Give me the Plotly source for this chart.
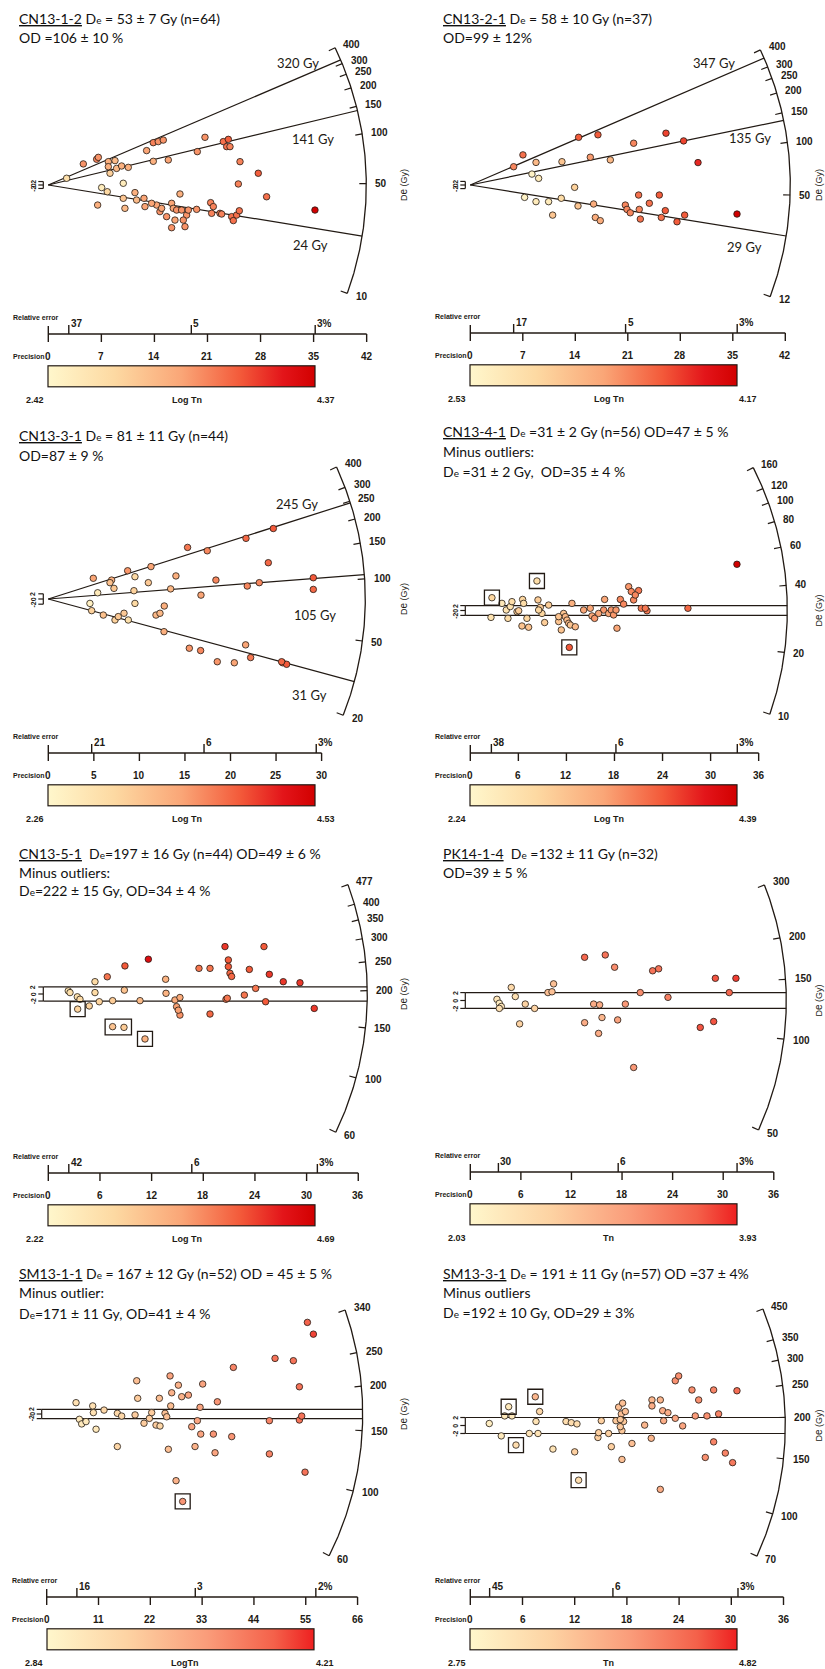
import numpy as np
import plotly.graph_objects as go

W, H = 825, 1669

# ======================= DATA =======================
sample_ids = ["CN13-1-2", "CN13-2-1", "CN13-3-1", "CN13-4-1",
              "CN13-5-1", "PK14-1-4", "SM13-1-1", "SM13-3-1"]
DE = 'D<span style="font-size:10px">e</span>'
title_text = [
    [" {De} = 53 ± 7 Gy (n=64)", "OD =106 ± 10 %"],
    [" {De} = 58 ± 10 Gy (n=37)", "OD=99 ± 12%"],
    [" {De} = 81 ± 11 Gy (n=44)", "OD=87 ± 9 %"],
    [" {De} =31 ± 2 Gy (n=56) OD=47 ± 5 %", "Minus outliers:", "{De} =31 ± 2 Gy,  OD=35 ± 4 %"],
    ["  {De}=197 ± 16 Gy (n=44) OD=49 ± 6 %", "Minus outliers:", "{De}=222 ± 15 Gy, OD=34 ± 4 %"],
    ["  {De} =132 ± 11 Gy (n=32)", "OD=39 ± 5 %"],
    [" {De} = 167 ± 12 Gy (n=52) OD = 45 ± 5 %", "Minus outlier:", "{De}=171 ± 11 Gy, OD=41 ± 4 %"],
    [" {De} = 191 ± 11 Gy (n=57) OD =37 ± 4%", "Minus outliers", "{De} =192 ± 10 Gy, OD=29 ± 3%"],
]
centre_De = [49, 57, 80, 30.9, 195, 130, 167, 189]
radial_De = [[320, 141, 24], [347, 135, 29], [245, 105, 31], [], [], [], [], []]
arc_De_range = [(10, 400), (12, 400), (20, 400), (10, 160), (60, 477), (50, 300), (60, 340), (70, 450)]
arc_ticks = [
    [10, 50, 100, 150, 200, 250, 300, 400],
    [12, 50, 100, 150, 200, 250, 300, 400],
    [20, 50, 100, 150, 200, 250, 300, 400],
    [10, 20, 40, 60, 80, 100, 120, 160],
    [60, 100, 150, 200, 250, 300, 350, 400, 477],
    [50, 100, 150, 200, 300],
    [60, 100, 150, 200, 250, 340],
    [70, 100, 150, 200, 250, 300, 350, 450],
]
prec_max = [42, 42, 30, 36, 36, 36, 66, 36]
prec_step = [7, 7, 5, 6, 6, 6, 11, 6]
rel_err_pct = [[37, 5.3, 2.84], [17.3, 4.83, 2.81], [21, 5.85, 3.4], [38, 5.5, 3.0],
               [42, 6.0, 3.2], [30, 5.7, 3.16], [15.6, 3.17, 1.75], [45, 6.1, 3.25]]
rel_err_labels = [["37", "5", "3%"], ["17", "5", "3%"], ["21", "6", "3%"], ["38", "6", "3%"],
                  ["42", "6", "3%"], ["30", "6", "3%"], ["16", "3", "2%"], ["45", "6", "3%"]]
cbar_min = [2.42, 2.53, 2.26, 2.24, 2.22, 2.03, 2.84, 2.75]
cbar_max = [4.37, 4.17, 4.53, 4.39, 4.69, 3.93, 4.21, 4.82]
cbar_title = ["Log Tn", "Log Tn", "Log Tn", "Log Tn", "Log Tn", "Tn", "LogTn", "Tn"]

# precision (x), standardised estimate (y), colour value (log Tn / Tn)
p1_x = [4.62, 6.38, 6.60, 7.92, 8.80, 8.14, 7.92, 9.01, 9.67, 10.55, 9.89, 12.97, 13.85, 14.51, 15.17, 13.85,
        15.83, 19.66, 20.67, 23.09, 23.75, 23.53, 23.97, 25.29, 27.70, 25.07, 28.80, 35.18, 6.51, 7.04, 7.78,
        9.89, 10.11, 11.43, 11.65, 12.62, 12.75, 14.29, 14.73, 14.95, 16.27, 16.49, 16.71, 16.93, 16.27, 17.37,
        17.59, 18.03, 18.25, 18.47, 19.57, 21.42, 21.77, 21.55, 22.65, 22.87, 24.19, 24.41, 24.85, 25.20,
        17.81, 15.61, 13.63, 2.42]
p1_y = [12.2, 14.9, 16.0, 13.5, 14.1, 6.8, 10.6, 9.6, 11.0, 10.2, 1.0, 19.9, 24.5, 25.1, 26.0, 13.7, 14.5,
        19.3, 27.6, 25.1, 26.4, 22.2, 22.2, 13.5, 6.8, 0.6, -6.8, -14.5, -11.6, -1.5, -3.9, -7.7, -13.5, -4.4,
        -8.7, -7.7, -12.5, -11.6, -15.4, -13.5, -10.6, -13.5, -20.3, -14.5, -24.7, -5.2, -14.5, -24.1, -17.4,
        -14.5, -14.1, -10.2, -12.5, -16.4, -16.4, -16.8, -18.3, -20.6, -17.4, -14.9, -20.3, -18.3, -10.6, 3.9]
p1_c = [3.5, 3.6, 3.5, 3.3, 3.2, 3.0, 3.3, 3.2, 3.3, 3.3, 2.6, 3.4, 3.6, 3.5, 3.5, 3.3, 3.4, 3.5, 3.5, 3.7,
        3.8, 3.7, 3.6, 3.6, 3.8, 3.6, 3.7, 4.37, 3.3, 2.6, 2.9, 3.1, 3.2, 3.3, 3.2, 3.4, 3.4, 3.4, 3.5, 3.4,
        3.4, 3.4, 3.4, 3.5, 3.5, 3.3, 3.5, 3.5, 3.5, 3.5, 3.5, 3.6, 3.6, 3.6, 3.6, 3.6, 3.7, 3.7, 3.7, 3.7,
        3.5, 3.5, 3.4, 2.8]

p2_x = [5.78, 7.02, 8.22, 8.76, 9.11, 12.22, 14.44, 16.00, 17.02, 18.67, 21.78, 26.09, 28.44, 30.36, 13.91,
        7.24, 8.76, 10.44, 12.13, 10.98, 14.36, 16.44, 16.67, 17.33, 20.67, 20.89, 21.33, 22.44, 22.53, 22.67,
        23.87, 25.20, 25.47, 26.00, 27.56, 28.58, 35.56]
p2_y = [10.2, 16.8, 6.1, 12.6, 3.7, 13.0, 26.6, 15.5, 28.0, 14.0, 23.3, 28.9, 24.6, 12.5, -1.3, -6.9, -9.3,
        -9.3, -7.4, -16.8, -11.7, -10.6, -18.1, -19.9, -11.2, -13.6, -15.5, -5.6, -13.6, -19.0, -10.2, -5.6,
        -18.1, -14.3, -20.5, -16.8, -16.2]
p2_c = [3.5, 3.6, 2.6, 3.2, 2.7, 3.1, 3.7, 3.4, 3.7, 3.2, 3.5, 3.8, 3.8, 3.9, 3.0, 2.6, 2.7, 2.7, 2.9, 3.1,
        3.1, 3.3, 3.3, 3.3, 3.5, 3.5, 3.5, 3.6, 3.5, 3.6, 3.6, 3.7, 3.6, 3.7, 3.7, 3.7, 4.17]

p3_x = [4.94, 5.42, 4.57, 4.76, 6.04, 6.95, 7.21, 7.32, 8.31, 8.71, 8.78, 9.51, 9.40, 9.51, 10.98, 11.27,
        11.82, 12.73, 12.70, 13.43, 14.01, 15.29, 15.48, 16.72, 16.76, 17.45, 18.40, 18.55, 20.42, 21.66,
        21.70, 21.84, 22.21, 23.16, 24.15, 24.70, 25.72, 26.16, 29.09, 29.09, 6.77, 7.68, 12.26, 25.61]
p3_y = [8.0, 2.4, -1.7, -4.5, -6.2, 7.3, 4.1, -8.1, -5.5, 10.9, -8.1, 8.6, 3.2, -1.7, 6.3, 12.5, -6.2, -2.7,
        -12.6, 3.9, 8.9, 19.9, -19.0, -19.9, 1.5, 18.6, 7.3, -24.2, -24.6, -17.7, 23.4, 5.0, -22.6, 6.3, 14.0,
        27.2, -24.6, -25.2, 8.2, 3.7, 6.3, -6.8, -5.5, -24.2]
p3_c = [3.4, 2.5, 2.4, 2.9, 3.1, 3.3, 3.0, 2.9, 3.0, 3.5, 2.7, 2.8, 2.9, 2.8, 3.0, 3.4, 3.2, 3.3, 3.3, 3.2,
        3.3, 3.7, 3.5, 3.6, 3.4, 3.6, 3.6, 3.5, 3.4, 3.4, 3.8, 3.6, 3.7, 3.6, 3.8, 3.9, 3.8, 3.9, 3.9, 3.8,
        3.1, 3.0, 3.2, 3.8]

p4_x = [2.70, 8.32, 12.36, 33.29, 27.17, 2.58, 3.95, 4.49, 4.70, 4.99, 5.83, 6.04, 6.53, 6.66, 7.07, 6.45,
        7.28, 8.45, 8.74, 8.95, 8.53, 9.28, 9.78, 11.03, 11.36, 11.65, 11.86, 12.07, 12.28, 12.49, 12.69,
        13.11, 14.15, 14.98, 15.19, 15.52, 16.77, 16.65, 17.27, 17.60, 17.89, 18.19, 18.31, 18.73, 19.14,
        19.77, 20.10, 20.39, 21.01, 21.35, 22.06, 21.85, 5.20, 11.03, 16.02, 20.60]
p4_y = [5.2, 12.0, -15.0, 18.8, 0.9, -2.8, 2.9, 0.2, -3.2, 1.6, -0.5, -0.1, 4.5, 2.9, -3.2, -6.3, -6.8, 4.3,
        1.3, -1.2, 0.2, -4.9, 2.2, -4.5, -7.9, -1.2, -2.5, -3.9, -5.2, -5.9, 2.9, -6.6, 0.2, 0.9, -2.2, -3.2,
        4.5, 0.2, -1.2, 0.2, -1.8, 0.2, -7.2, 4.5, 2.6, 9.7, 7.7, 4.3, 8.1, 0.9, -0.1, 0.9, 3.6, -2.5, -1.2, 6.3]
p4_c = [2.8, 2.7, 3.8, 4.39, 3.7, 2.6, 2.5, 2.6, 2.7, 2.6, 2.9, 2.9, 2.8, 2.7, 2.8, 3.0, 3.0, 2.9, 2.9, 2.8,
        2.8, 2.9, 2.9, 3.0, 3.0, 3.0, 3.1, 3.1, 3.1, 3.0, 3.2, 3.1, 3.3, 3.3, 3.3, 3.4, 3.3, 3.4, 3.3, 3.4,
        3.4, 3.4, 3.3, 3.5, 3.5, 3.4, 3.5, 3.5, 3.6, 3.6, 3.6, 3.6, 2.7, 3.0, 3.3, 3.5]

p5_x = [2.32, 3.37, 3.41, 4.76, 5.42, 5.42, 5.92, 6.85, 7.47, 8.83, 8.90, 10.65, 11.62, 13.63, 13.67, 14.71,
        15.29, 14.90, 15.29, 17.50, 18.78, 18.78, 20.52, 20.91, 20.91, 21.10, 21.29, 20.64, 22.77, 23.35,
        24.08, 25.05, 25.24, 25.67, 27.29, 29.23, 30.89, 7.47, 8.79, 11.23, 3.68, 2.52, 15.10, 20.79]
p5_y = [0.9, -0.8, -4.3, -3.4, 3.5, 0.4, -2.2, 4.9, -1.9, 1.1, 8.0, -1.9, 9.9, 4.2, 0.2, -1.7, -1.0, -3.6,
        -6.0, 7.3, 7.3, -5.7, 13.5, 9.7, 7.8, 5.9, 5.0, -1.5, -0.3, 7.0, 1.6, 13.5, -2.2, 5.6, 3.5, 3.2, -4.1,
        -9.3, -9.5, -12.8, -1.5, 0.4, -4.6, -1.2]
p5_c = [2.6, 2.7, 2.9, 2.9, 2.8, 2.8, 2.9, 3.8, 3.0, 3.1, 4.0, 3.2, 4.5, 3.3, 3.3, 3.4, 3.4, 3.5, 3.6, 3.8,
        3.8, 3.9, 4.2, 4.0, 4.0, 3.9, 3.9, 3.8, 3.8, 4.0, 3.8, 4.0, 4.0, 4.2, 4.2, 4.2, 4.2, 3.1, 3.0, 3.3,
        2.8, 2.7, 3.5, 3.8]

p6_x = [3.16, 3.44, 3.68, 3.44, 4.86, 5.34, 5.85, 6.52, 7.63, 9.21, 9.69, 9.88, 13.56, 13.56, 14.63, 15.34,
        15.22, 15.62, 16.01, 17.12, 17.48, 18.39, 19.38, 20.16, 21.63, 22.34, 23.45, 27.28, 28.87, 29.07,
        30.72, 31.51]
p6_y = [0.3, -0.7, -1.5, -2.0, 3.3, 1.0, -5.9, -0.9, -2.0, 2.0, 2.2, 4.2, 10.9, -5.6, -0.9, -1.1, -8.3, -4.3,
        11.5, 8.4, -4.9, -0.9, -16.9, 2.0, 7.5, 8.0, 0.8, -6.8, -5.3, 5.6, 2.0, 5.6]
p6_c = [2.3, 2.2, 2.3, 2.4, 2.5, 2.4, 2.6, 2.6, 2.6, 2.8, 2.8, 2.8, 3.6, 3.0, 3.0, 3.0, 3.0, 2.9, 3.5, 3.3,
        3.1, 3.2, 3.2, 3.3, 3.5, 3.5, 3.4, 3.7, 3.7, 3.7, 3.6, 3.8]

p7_x = [6.23, 6.94, 7.43, 9.77, 9.91, 10.48, 12.17, 15.0, 15.0, 15.92, 18.76, 19.11, 19.32, 20.66, 21.80,
        22.29, 23.21, 23.92, 24.06, 25.12, 25.48, 25.83, 26.19, 26.33, 26.54, 27.46, 27.96, 28.66, 30.08,
        30.79, 31.49, 31.99, 32.56, 32.70, 33.12, 35.39, 35.74, 36.24, 39.28, 39.63, 47.28, 47.28, 48.48,
        52.37, 53.65, 53.65, 54.14, 54.85, 55.35, 56.62, 28.87, 8.35]
p7_y = [4.9, -2.3, -4.3, 3.5, 0.6, -6.6, 1.7, -14.1, 0.3, -0.9, -0.4, 14.4, 6.8, -4.0, -1.9, 0.6, -4.8, 6.8,
        -5.2, 0.3, -1.2, -15.3, 16.5, 3.5, 9.2, -28.9, 12.5, 7.5, 8.2, -5.5, -14.1, -2.9, 2.9, -8.7, 13.0,
        -8.7, -16.8, 5.3, -9.8, 20.2, -2.9, -17.3, 24.1, 23.1, 11.8, -2.6, -0.9, -25.2, 39.7, 34.6, -37.9, -3.3]
p7_c = [3.1, 3.0, 3.0, 3.1, 3.1, 3.0, 3.2, 3.2, 3.2, 3.2, 3.3, 3.4, 3.3, 3.3, 3.3, 3.3, 3.3, 3.4, 3.2, 3.4,
        3.4, 3.4, 3.6, 3.4, 3.5, 3.5, 3.5, 3.5, 3.6, 3.6, 3.5, 3.6, 3.6, 3.6, 3.6, 3.7, 3.6, 3.7, 3.7, 3.8,
        3.8, 3.8, 3.9, 3.9, 3.9, 3.9, 3.9, 3.9, 4.0, 4.1, 3.7, 3.0]

p8_x = [2.18, 3.56, 3.95, 4.41, 4.79, 5.25, 6.78, 7.47, 7.55, 7.78, 7.97, 9.50, 11.00, 11.61, 12.0, 12.26,
        12.45, 14.67, 15.06, 15.90, 16.21, 16.74, 17.05, 17.36, 17.43, 17.43, 17.51, 17.82, 17.62, 18.58,
        20.04, 20.88, 20.88, 20.80, 21.84, 21.84, 22.11, 22.22, 22.72, 23.56, 23.56, 23.95, 24.41, 25.48,
        25.86, 26.25, 27.01, 27.20, 27.97, 27.97, 28.54, 29.31, 30.15, 30.65, 17.24, 14.75, 17.24]
p8_y = [0.5, -2.6, 2.4, 4.7, 2.4, -4.9, -2.0, 7.2, 1.0, -2.0, 3.5, -5.9, 1.0, 0.7, -6.6, 0.4, -13.7, -3.0,
        1.2, -2.0, -5.3, 1.2, 4.6, 2.9, -1.3, -8.5, 5.6, 3.5, 1.0, -4.5, 0.1, 6.4, 4.9, -3.2, 6.4, -16.0, 3.7,
        1.2, 3.2, 1.8, 11.2, 12.4, -0.1, 8.9, 2.4, 6.4, -8.0, 2.4, 8.9, -4.1, 2.9, -6.9, -9.3, 8.7, -0.3,
        -1.8, 1.5]
p8_c = [2.9, 3.0, 3.0, 3.0, 3.0, 3.2, 3.1, 3.7, 3.1, 3.1, 3.3, 3.1, 3.2, 3.2, 3.4, 3.2, 3.2, 3.4, 3.4, 3.4,
        3.4, 3.5, 3.6, 3.6, 3.5, 3.6, 3.6, 3.6, 3.5, 3.6, 3.7, 3.7, 3.8, 3.7, 3.7, 3.8, 3.8, 3.8, 3.8, 3.9,
        4.1, 4.1, 3.9, 4.1, 4.0, 4.1, 4.1, 4.1, 4.2, 4.2, 4.2, 4.2, 4.3, 4.4, 3.5, 3.4, 3.5]

# indices of boxed outliers (groups share one box)
outlier_groups = [[], [], [], [[0], [1], [2]], [[2], [37, 38], [39]], [], [[50]], [[3], [5], [7], [16]]]

panel_x = [p1_x, p2_x, p3_x, p4_x, p5_x, p6_x, p7_x, p8_x]
panel_y = [p1_y, p2_y, p3_y, p4_y, p5_y, p6_y, p7_y, p8_y]
panel_c = [p1_c, p2_c, p3_c, p4_c, p5_c, p6_c, p7_c, p8_c]

# ======================= LAYOUT / STYLE =======================
G = [
    dict(ox=48.3, oy=185.0, kx=7.58, ratio=0.228, R=318, prec_y=334, tx=17, ty=[18, 37], dgx=403, cs=0,
         lab_off=[(0, 15), (0, -18), (-6, -16)]),
    dict(ox=470.3, oy=185.0, kx=7.50, ratio=0.239, R=320, prec_y=333, tx=441, ty=[18, 37], dgx=818, cs=0,
         lab_off=[(-6, 14), (13, -8), (6, -19)]),
    dict(ox=48.3, oy=599.0, kx=9.11, ratio=0.2845, R=317, prec_y=753, tx=17, ty=[435, 456], dgx=403, cs=0,
         lab_off=[(-10, 12), (-4, -37), (-1, -25)]),
    dict(ox=470.3, oy=610.5, kx=8.01, ratio=0.307, R=317, prec_y=753, tx=441, ty=[432, 451, 471], dgx=818, cs=0),
    dict(ox=48.3, oy=994.0, kx=8.61, ratio=0.408, R=319, prec_y=1173, tx=17, ty=[853, 872, 890], dgx=403, cs=0),
    dict(ox=470.3, oy=1000.5, kx=8.43, ratio=0.47, R=316, prec_y=1172, tx=441, ty=[853, 872], dgx=818, cs=1),
    dict(ox=46.7, oy=1414.0, kx=4.71, ratio=0.49, R=316, prec_y=1597, tx=17, ty=[1273, 1292, 1313], dgx=403, cs=1),
    dict(ox=470.3, oy=1425.5, kx=8.70, ratio=0.459, R=315, prec_y=1597, tx=441, ty=[1273, 1292, 1312], dgx=818, cs=1),
]
SCALES = [
    [[0, "#FFF7CC"], [0.25, "#FDD9A2"], [0.5, "#FAA677"], [0.72, "#F35A3A"], [0.88, "#E3151A"], [1, "#D20000"]],
    [[0, "#FFF7CC"], [0.3, "#FDD3A3"], [0.6, "#FA9C7A"], [0.85, "#F4614A"], [1, "#EE2020"]],
]
INK = "#221a14"
TXT = "Lato"
TICKF = "Liberation Sans"
CB_LEN, CB_TH = 267, 21

fig = go.Figure()
annotations, shapes, axes = [], [], {}


def add_ann(x, y, text, xref, yref, size=9, bold=True, xanchor="center", yanchor="middle",
            angle=0, xshift=0, yshift=0, family=TICKF):
    annotations.append(dict(
        x=x, y=y, xref=xref, yref=yref, text=f"<b>{text}</b>" if bold else text, showarrow=False,
        font=dict(family=family, size=size, color=INK), xanchor=xanchor, yanchor=yanchor,
        textangle=angle, xshift=xshift, yshift=yshift, borderpad=0))


def seg_trace(segs, xa, ya, width=1.2):
    xs, ys = [], []
    for (x0, y0, x1, y1) in segs:
        xs += [x0, x1, None]
        ys += [y0, y1, None]
    fig.add_trace(go.Scatter(x=xs, y=ys, mode="lines", line=dict(color=INK, width=width),
                             hoverinfo="skip", xaxis=xa, yaxis=ya, showlegend=False))


for i, g in enumerate(G):
    n = i + 1
    xa, ya = ("x", "y") if n == 1 else (f"x{n}", f"y{n}")
    xk, yk = ("xaxis", "yaxis") if n == 1 else (f"xaxis{n}", f"yaxis{n}")
    kx = g["kx"]
    ky = g["ratio"] * kx
    ox, oy, R = g["ox"], g["oy"], g["R"]
    axes[xk] = dict(range=[-ox / kx, (W - ox) / kx], domain=[0, 1], visible=False, fixedrange=True, anchor=ya)
    axes[yk] = dict(range=[(oy - H) / ky, oy / ky], domain=[0, 1], visible=False, fixedrange=True, anchor=xa)
    if n > 1:
        axes[xk]["overlaying"] = "x"
        axes[yk]["overlaying"] = "y"

    z0 = np.log(centre_De[i])

    def theta(De):
        return np.arctan(g["ratio"] * (np.log(De) - z0))

    def polar(r, th):
        return r * np.cos(th) / kx, r * np.sin(th) / ky

    def py(p):  # pixel row -> data y
        return (oy - p) / ky

    # ---- arc ----
    lo, hi = arc_De_range[i]
    th = np.linspace(theta(lo), theta(hi), 160)
    ax_, ay_ = polar(R, th)
    fig.add_trace(go.Scatter(x=ax_, y=ay_, mode="lines", line=dict(color=INK, width=1.3),
                             hoverinfo="skip", xaxis=xa, yaxis=ya, showlegend=False))
    segs = []
    for De in arc_ticks[i]:
        t = theta(De)
        x0, y0 = polar(R, t)
        x1, y1 = polar(R - 7, t)
        segs.append((x0, y0, x1, y1))
        lx, ly = polar(R + 8, t)
        add_ann(lx, ly, str(De), xa, ya, size=10, xanchor="left")
    seg_trace(segs, xa, ya)

    # ---- radial lines ----
    segs = []
    if radial_De[i]:
        for k, De in enumerate(radial_De[i]):
            t = theta(De)
            x1, y1 = polar(R, t)
            segs.append((0, 0, x1, y1))
            lx, ly = polar(272, t)
            dx, dy = g["lab_off"][k]
            add_ann(lx, ly, f"{De} Gy", xa, ya, size=13, bold=False, family=TXT, xshift=dx, yshift=dy)
    else:
        # 2-sigma band
        xe = np.sqrt(R ** 2 - (2 * ky) ** 2) / kx
        segs.append((-5 / kx, 2, xe, 2))
        segs.append((-5 / kx, -2, xe, -2))
    # y axis stub with ticks
    segs.append((-5 / kx, -2, -5 / kx, 2))
    for v in (-2, 0, 2):
        segs.append((-5 / kx, v, -10 / kx, v))
        add_ann(-15 / kx, v, str(v), xa, ya, size=7, angle=-90)
    seg_trace(segs, xa, ya)

    # ---- precision / relative error axis ----
    yl = py(g["prec_y"])
    segs = [(0, yl, prec_max[i], yl), (0, yl, 0, py(g["prec_y"] - 8))]
    for v in range(0, prec_max[i] + 1, prec_step[i]):
        segs.append((v, yl, v, py(g["prec_y"] + 8)))
        add_ann(v, py(g["prec_y"] + 22), str(v), xa, ya, size=10)
    for pct, lab in zip(rel_err_pct[i], rel_err_labels[i]):
        xv = 100.0 / pct
        segs.append((xv, yl, xv, py(g["prec_y"] - 9)))
        add_ann(xv, py(g["prec_y"] - 11), lab, xa, ya, size=10, xanchor="left", xshift=1)
    seg_trace(segs, xa, ya, width=1.4)
    add_ann(-2 / kx, py(g["prec_y"] + 22), "Precision", xa, ya, size=7, xanchor="right")
    add_ann(-36 / kx, py(g["prec_y"] - 17), "Relative error", xa, ya, size=7, xanchor="left")
    add_ann((g["dgx"] - ox) / kx, 0, DE + " (Gy)", xa, ya, size=9, bold=False, angle=-90)

    # ---- outlier boxes ----
    for grp in outlier_groups[i]:
        gx = [panel_x[i][k] for k in grp]
        gy = [panel_y[i][k] for k in grp]
        shapes.append(dict(type="rect", xref=xa, yref=ya,
                           x0=min(gx) - 7.5 / kx, x1=max(gx) + 7.5 / kx,
                           y0=min(gy) - 7.5 / ky, y1=max(gy) + 7.5 / ky,
                           line=dict(color=INK, width=1.3)))

    # ---- points + colour bar ----
    cb_bottom = g["prec_y"] + 33 + CB_TH
    fig.add_trace(go.Scatter(
        x=panel_x[i], y=panel_y[i], mode="markers", xaxis=xa, yaxis=ya, showlegend=False,
        hoverinfo="skip", cliponaxis=False,
        marker=dict(size=6.5, color=panel_c[i], colorscale=SCALES[g["cs"]], cmin=cbar_min[i], cmax=cbar_max[i],
                    line=dict(color=INK, width=0.8), showscale=True,
                    colorbar=dict(orientation="h", x=ox / W, xanchor="left", y=1 - cb_bottom / H,
                                  yanchor="bottom", len=CB_LEN, lenmode="pixels", thickness=CB_TH,
                                  thicknessmode="pixels", xpad=0, ypad=0, outlinewidth=1.2,
                                  outlinecolor=INK, showticklabels=False, ticks="", borderwidth=0))))
    cy = py(g["prec_y"] + 66)
    add_ann(-3 / kx, cy, f"{cbar_min[i]:.2f}", xa, ya, size=9, xanchor="right")
    add_ann((CB_LEN + 1) / kx, cy, f"{cbar_max[i]:.2f}", xa, ya, size=9, xanchor="left")
    add_ann((CB_LEN / 2 + 5) / kx, cy, cbar_title[i], xa, ya, size=9)

    # ---- titles ----
    for j, line in enumerate(title_text[i]):
        txt = line.format(De=DE)
        if j == 0:
            txt = f"<u>{sample_ids[i]}</u>" + txt
        annotations.append(dict(x=g["tx"] / W, y=1 - g["ty"][j] / H, xref="paper", yref="paper",
                                text=txt, showarrow=False, xanchor="left", yanchor="middle",
                                font=dict(family=TXT, size=14, color="#111111")))

fig.update_layout(width=W, height=H, margin=dict(l=0, r=0, t=0, b=0, pad=0, autoexpand=False),
                  paper_bgcolor="white", plot_bgcolor="rgba(0,0,0,0)", showlegend=False,
                  annotations=annotations, shapes=shapes, **axes)
fig.write_html("out.html", config={"displayModeBar": False, "staticPlot": True},
               post_script="document.body.style.margin='0';document.body.style.overflow='hidden';")
